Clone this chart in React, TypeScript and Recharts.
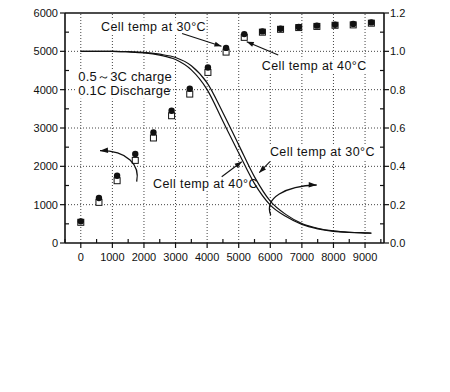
import {
  ComposedChart,
  Line,
  Scatter,
  XAxis,
  YAxis,
  ReferenceLine,
  ReferenceDot,
} from 'recharts'

// cycle number of the capacity points
const cycleX = [0, 575, 1150, 1725, 2300, 2875, 3450, 4025, 4600, 5175, 5750, 6325, 6900, 7475, 8050, 8625, 9200]
// filled circles, cell temp at 30°C (left axis)
const points30 = [565, 1175, 1755, 2320, 2885, 3450, 4025, 4580, 5090, 5450, 5520, 5590, 5635, 5670, 5695, 5715, 5755]
// open squares, cell temp at 40°C (left axis)
const points40 = [540, 1060, 1625, 2155, 2740, 3320, 3885, 4450, 4980, 5365, 5500, 5575, 5620, 5650, 5680, 5690, 5735]

// discharge curves (right axis)
const curveX = [0, 500, 1000, 1500, 2000, 2500, 3000, 3500, 4000, 4500, 5000, 5500, 6000, 6500, 7000, 7500, 8000, 8500, 9000, 9200]
const curve30 = [1.0, 1.0, 1.0, 0.998, 0.995, 0.985, 0.968, 0.925, 0.835, 0.68, 0.512, 0.345, 0.218, 0.148, 0.102, 0.077, 0.063, 0.056, 0.053, 0.052]
const curve40 = [1.0, 1.0, 1.0, 0.997, 0.992, 0.98, 0.957, 0.903, 0.8, 0.635, 0.47, 0.31, 0.198, 0.138, 0.097, 0.074, 0.061, 0.055, 0.052, 0.051]

const xTicks = [-500, 0, 500, 1000, 1500, 2000, 2500, 3000, 3500, 4000, 4500, 5000, 5500, 6000, 6500, 7000, 7500, 8000, 8500, 9000, 9500]
const xGrid = [0, 1000, 2000, 3000, 4000, 5000, 6000, 7000, 8000, 9000]
const leftTicks = [0, 500, 1000, 1500, 2000, 2500, 3000, 3500, 4000, 4500, 5000, 5500, 6000]
const yGrid = [1000, 2000, 3000, 4000, 5000]
const rightTicks = [0, 0.1, 0.2, 0.3, 0.4, 0.5, 0.6, 0.7, 0.8, 0.9, 1.0, 1.1, 1.2]

const ink = '#111'
const font = '"Liberation Sans", Arial, sans-serif'

const data30 = cycleX.map((x, i) => ({ x, y: points30[i] }))
const data40 = cycleX.map((x, i) => ({ x, y: points40[i] }))
const line30 = curveX.map((x, i) => ({ x, v: curve30[i] }))
const line40 = curveX.map((x, i) => ({ x, v: curve40[i] }))

function head(x1: number, y1: number, x2: number, y2: number, len = 7, w = 2.6) {
  const a = Math.atan2(y2 - y1, x2 - x1)
  const bx = x2 - len * Math.cos(a)
  const by = y2 - len * Math.sin(a)
  const px = -Math.sin(a) * w
  const py = Math.cos(a) * w
  return `${x2},${y2} ${bx + px},${by + py} ${bx - px},${by - py}`
}

// label (with white backing) + straight arrow, offsets relative to the anchor
function note(
  lines: { t: string; dx: number; dy: number; w: number }[],
  from?: [number, number],
  to?: [number, number],
  size = 12.5,
  spacing = 0.4
) {
  return (p: any) => {
    const { cx, cy } = p
    return (
      <g>
        {lines.map((l, i) => (
          <g key={i}>
            <rect x={cx + l.dx - 2} y={cy + l.dy - size * 0.85} width={l.w + 2} height={size * 1.1} fill="#fff" />
            <text x={cx + l.dx} y={cy + l.dy} fontSize={size} letterSpacing={spacing} fill={ink} fontFamily={font}>
              {l.t}
            </text>
          </g>
        ))}
        {from && to && (
          <>
            <line x1={cx + from[0]} y1={cy + from[1]} x2={cx + to[0]} y2={cy + to[1]} stroke={ink} strokeWidth={1.1} />
            <polygon points={head(cx + from[0], cy + from[1], cx + to[0], cy + to[1])} fill={ink} />
          </>
        )}
      </g>
    )
  }
}

function curvedArrow(c: number[], end: [number, number], prev: [number, number]) {
  return (p: any) => {
    const { cx, cy } = p
    const d = `M${cx},${cy} C${cx + c[0]},${cy + c[1]} ${cx + c[2]},${cy + c[3]} ${cx + end[0]},${cy + end[1]}`
    return (
      <g>
        <path d={d} fill="none" stroke={ink} strokeWidth={1.3} />
        <polygon points={head(cx + prev[0], cy + prev[1], cx + end[0], cy + end[1], 8, 2.8)} fill={ink} />
      </g>
    )
  }
}

const XTick = (p: any) => {
  const { x, y, payload } = p
  const v = payload.value
  const major = v % 1000 === 0
  return (
    <g>
      <line x1={x} x2={x} y1={y} y2={major ? y + 5 : y - 4} stroke={ink} strokeWidth={1.2} />
      {major && (
        <text x={x} y={y + 17.5} textAnchor="middle" fontSize={11} fill={ink} fontFamily={font}>
          {v}
        </text>
      )}
    </g>
  )
}

const LeftTick = (p: any) => {
  const { x, y, payload } = p
  const v = payload.value
  const major = v % 1000 === 0
  return (
    <g>
      <line x1={x} x2={major ? x - 5 : x + 4} y1={y} y2={y} stroke={ink} strokeWidth={1.2} />
      {major && (
        <text x={x - 7} y={y + 4} textAnchor="end" fontSize={11} fill={ink} fontFamily={font}>
          {v}
        </text>
      )}
    </g>
  )
}

const RightTick = (p: any) => {
  const { x, y, payload } = p
  const v = payload.value
  const major = Math.round(v * 10) % 2 === 0
  return (
    <g>
      <line x1={x} x2={major ? x + 5 : x - 4} y1={y} y2={y} stroke={ink} strokeWidth={1.2} />
      {major && (
        <text x={x + 6} y={y + 4} textAnchor="start" fontSize={11} fill={ink} fontFamily={font}>
          {v.toFixed(1)}
        </text>
      )}
    </g>
  )
}

const Dot30 = (p: any) => <circle cx={p.cx} cy={p.cy} r={3.2} fill={ink} />
const Square40 = (p: any) => (
  <rect x={p.cx - 3} y={p.cy - 3} width={6} height={6} fill="#fff" stroke={ink} strokeWidth={1} />
)

export default function App() {
  return (
    <div style={{ position: 'absolute', left: 0, top: 0, width: 450, height: 392, background: '#fff' }}>
      <ComposedChart width={450} height={392} margin={{ top: 13, right: 0, bottom: 119, left: 0 }}>
        <XAxis
          dataKey="x"
          type="number"
          domain={[-500, 9600]}
          ticks={xTicks}
          interval={0}
          tick={XTick}
          tickSize={0}
          tickMargin={0}
          tickLine={false}
          height={30}
          axisLine={{ stroke: ink, strokeWidth: 1.6 }}
          allowDuplicatedCategory={false}
        />
        <YAxis
          yAxisId="left"
          type="number"
          domain={[0, 6000]}
          ticks={leftTicks}
          interval={0}
          tick={LeftTick}
          tickSize={0}
          tickMargin={0}
          tickLine={false}
          width={65}
          axisLine={{ stroke: ink, strokeWidth: 1.6 }}
        />
        <YAxis
          yAxisId="right"
          orientation="right"
          type="number"
          domain={[0, 1.2]}
          ticks={rightTicks}
          interval={0}
          tick={RightTick}
          tickSize={0}
          tickMargin={0}
          tickLine={false}
          width={66}
          axisLine={{ stroke: ink, strokeWidth: 1.6 }}
        />
        {xGrid.map((g) => (
          <ReferenceLine key={'vx' + g} x={g} yAxisId="left" stroke="#444" strokeDasharray="1 2" strokeWidth={1} />
        ))}
        {yGrid.map((g) => (
          <ReferenceLine key={'hy' + g} y={g} yAxisId="left" stroke="#444" strokeDasharray="1 2" strokeWidth={1} />
        ))}
        <ReferenceLine y={6000} yAxisId="left" stroke={ink} strokeWidth={1.6} />

        <Line data={line40} dataKey="v" yAxisId="right" type="monotone" stroke={ink} strokeWidth={1.2} dot={false} isAnimationActive={false} />
        <Line data={line30} dataKey="v" yAxisId="right" type="monotone" stroke={ink} strokeWidth={1.2} dot={false} isAnimationActive={false} />
        <Scatter data={data40} dataKey="y" yAxisId="left" shape={Square40} isAnimationActive={false} />
        <Scatter data={data30} dataKey="y" yAxisId="left" shape={Dot30} isAnimationActive={false} />

        <ReferenceDot
          x={0}
          y={5000}
          yAxisId="left"
          r={0}
          shape={note(
            [
              { t: '0.5～3C charge', dx: -2.5, dy: 29.4, w: 90 },
              { t: '0.1C Discharge', dx: -2.5, dy: 44.1, w: 88 },
            ],
            undefined,
            undefined,
            13,
            0.2
          )}
        />
        <ReferenceDot
          x={5650}
          y={0.367}
          yAxisId="right"
          r={0}
          shape={note([{ t: 'Cell temp at 30°C', dx: 10.7, dy: -16.5, w: 105 }], [10.7, -11], [0, 0])}
        />
        <ReferenceDot
          x={5095}
          y={0.424}
          yAxisId="right"
          r={0}
          shape={note([{ t: 'Cell temp at 40°C', dx: -88.7, dy: 26.1, w: 90 }], [-20, 15], [0, 0])}
        />
        <ReferenceDot
          x={4600}
          y={5090}
          yAxisId="left"
          r={0}
          shape={note([{ t: 'Cell temp at 30°C', dx: -125, dy: -17, w: 105 }], [-44, -14.4], [-4.6, -1.6])}
        />
        <ReferenceDot
          x={5175}
          y={5365}
          yAxisId="left"
          r={0}
          shape={note([{ t: 'Cell temp at 40°C', dx: 17.5, dy: 32.5, w: 105 }], [34, 17.7], [2.5, 4.4])}
        />
        <ReferenceDot
          x={1770}
          y={1600}
          yAxisId="left"
          r={0}
          shape={curvedArrow([3.3, -16.7, -8.7, -31], [-36.7, -31], [-28, -31.5])}
        />
        <ReferenceDot
          x={6013}
          y={0.146}
          yAxisId="right"
          r={0}
          shape={curvedArrow([-6.7, -17, 14.3, -29], [46, -30], [38, -30.2])}
        />
      </ComposedChart>
    </div>
  )
}
